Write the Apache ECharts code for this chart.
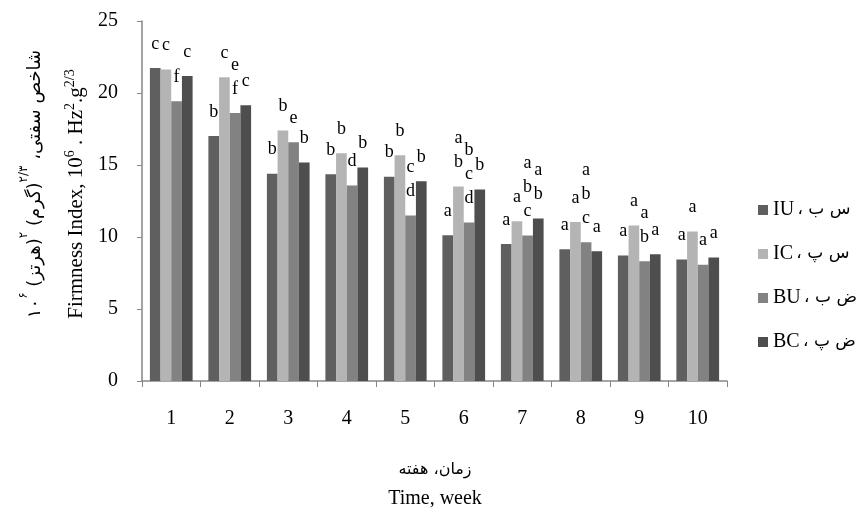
<!DOCTYPE html>
<html>
<head>
<meta charset="utf-8">
<script src="https://cdn.jsdelivr.net/npm/echarts@6/dist/echarts.min.js"></script>
<style>html,body{margin:0;padding:0;background:#fff;}#c{width:866px;height:512px;}</style>
</head>
<body>
<div id="c"></div>
<script>
var weeks = ['1','2','3','4','5','6','7','8','9','10'];
var seriesNames = ['IU','IC','BU','BC'];
var legendPersian = ['س ب','س پ','ض ب','ض پ'];
var valuesIU = [21.74,17.01,14.40,14.35,14.19,10.12,9.51,9.15,8.71,8.43];
var valuesIC = [21.63,21.09,17.39,15.81,15.67,13.50,11.09,11.04,10.79,10.38];
var valuesBU = [19.42,18.61,16.58,13.57,11.49,11.00,10.10,9.63,8.31,8.08];
var valuesBC = [21.18,19.15,15.17,14.82,13.87,13.29,11.28,9.01,8.80,8.57];
var lettersIU = ['c','b','b','b','b','a','a','a','a','a'];
var lettersIC = ['c','c','b','b','b','ab','a','a','a','a'];
var lettersBU = ['f','ef','e','d','cd','bcd','abc','abc','ab','a'];
var lettersBC = ['c','c','b','b','b','b','ab','a','a','a'];
var yTicks = {min:0, max:25, interval:5};

var colors = ['#5f5f5f','#b4b4b4','#828282','#4e4e4e'];
var allValues = [valuesIU, valuesIC, valuesBU, valuesBC];
var allLetters = [lettersIU, lettersIC, lettersBU, lettersBC];
var serif = 'Liberation Serif';
var arab = 'DejaVu Sans';

var chart = echarts.init(document.getElementById('c'), null, {renderer:'canvas'});

var series = seriesNames.map(function(n, i){
  return {
    name: n,
    type: 'bar',
    barGap: '0%',
    barCategoryGap: '27%',
    itemStyle: {color: colors[i]},
    data: allValues[i],
    label: {
      show: true,
      position: 'top',
      distance: 12,
      color: '#000',
      fontFamily: serif,
      fontSize: 18,
      lineHeight: 24,
      formatter: function(p){ return allLetters[i][p.dataIndex].split('').join('\n'); }
    }
  };
});

var option = {
  animation: false,
  backgroundColor: '#fff',
  grid: {left: 142, top: 21, right: 139, bottom: 131, containLabel: false},
  xAxis: {
    type: 'category',
    data: weeks,
    axisLine: {show: true, lineStyle: {color: '#868686', width: 1.5}},
    axisTick: {show: true, length: 6, alignWithLabel: false, lineStyle: {color: '#868686'}},
    axisLabel: {color: '#000', fontFamily: serif, fontSize: 20, margin: 28}
  },
  yAxis: {
    type: 'value',
    min: yTicks.min, max: yTicks.max, interval: yTicks.interval,
    axisLine: {show: true, lineStyle: {color: '#868686', width: 1.5}},
    axisTick: {show: true, length: 5, inside: false, lineStyle: {color: '#868686'}},
    splitLine: {show: false},
    axisLabel: {color: '#000', fontFamily: serif, fontSize: 20, margin: 24}
  },
  legend: {
    orient: 'vertical',
    left: 753,
    top: 193,
    itemWidth: 10,
    itemHeight: 10,
    itemGap: 20,
    icon: 'rect',
    data: seriesNames,
    formatter: function(name){
      var idx = seriesNames.indexOf(name);
      return '{l|' + name + '} {p|، ' + legendPersian[idx] + '}';
    },
    textStyle: {
      color: '#000',
      lineHeight: 24,
      rich: {
        l: {fontFamily: serif, fontSize: 20, lineHeight: 24, color: '#000'},
        p: {fontFamily: arab, fontSize: 17, lineHeight: 24, color: '#000'}
      }
    }
  },
  graphic: [
    {
      type: 'text', x: 75, y: 194, rotation: Math.PI/2,
      style: {
        text: '{n|Firmness Index, 10}{s|6}{n| . Hz}{s|2}{n|.g}{s|2/3}',
        align: 'center', verticalAlign: 'middle',
        rich: {
          n: {fontFamily: serif, fontSize: 21, lineHeight: 24, verticalAlign: 'bottom', fill: '#000'},
          s: {fontFamily: serif, fontSize: 14, lineHeight: 24, verticalAlign: 'top', fill: '#000'}
        }
      }
    },
    {
      type: 'text', x: 31, y: 184, rotation: Math.PI/2,
      style: {
        text: '{p|۱۰}{s|۶}{p| (هرتز)}{s|۲}{p| (گرم)}{s|۲/۳}{p| ،شاخص سفتی}',
        align: 'center', verticalAlign: 'middle',
        rich: {
          p: {fontFamily: arab, fontSize: 18, lineHeight: 26, verticalAlign: 'bottom', fill: '#000'},
          s: {fontFamily: arab, fontSize: 12, lineHeight: 26, verticalAlign: 'top', fill: '#000'}
        }
      }
    },
    {
      type: 'text', x: 435, y: 470,
      style: {text: 'زمان، هفته', align: 'center', verticalAlign: 'middle', fontFamily: arab, fontSize: 16, fill: '#000'}
    },
    {
      type: 'text', x: 435, y: 499,
      style: {text: 'Time, week', align: 'center', verticalAlign: 'middle', fontFamily: serif, fontSize: 20, fill: '#000'}
    }
  ],
  series: series
};
chart.setOption(option);
</script>
</body>
</html>
